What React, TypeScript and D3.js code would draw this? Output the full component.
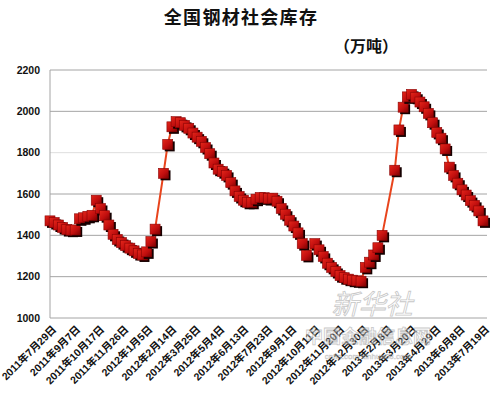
import React from "react";
import * as d3 from "d3";

// weekly readings, holiday weeks missing
const dates = [
  "2011-07-29", "2011-08-05", "2011-08-12", "2011-08-19", "2011-08-26", "2011-09-02",
  "2011-09-09", "2011-09-16", "2011-09-23", "2011-09-30", "2011-10-07", "2011-10-14",
  "2011-10-21", "2011-10-28", "2011-11-04", "2011-11-11", "2011-11-18", "2011-11-25",
  "2011-12-02", "2011-12-09", "2011-12-16", "2011-12-23", "2011-12-30", "2012-01-06",
  "2012-01-13", "2012-01-20", "2012-02-03", "2012-02-10", "2012-02-17", "2012-02-24",
  "2012-03-02", "2012-03-09", "2012-03-16", "2012-03-23", "2012-03-30", "2012-04-06",
  "2012-04-13", "2012-04-20", "2012-04-27", "2012-05-04", "2012-05-11", "2012-05-18",
  "2012-05-25", "2012-06-01", "2012-06-08", "2012-06-15", "2012-06-22", "2012-06-29",
  "2012-07-06", "2012-07-13", "2012-07-20", "2012-07-27", "2012-08-03", "2012-08-10",
  "2012-08-17", "2012-08-24", "2012-08-31", "2012-09-07", "2012-09-14", "2012-09-21",
  "2012-09-28", "2012-10-12", "2012-10-19", "2012-10-26", "2012-11-02", "2012-11-09",
  "2012-11-16", "2012-11-23", "2012-11-30", "2012-12-07", "2012-12-14", "2012-12-21",
  "2012-12-28", "2013-01-04", "2013-01-11", "2013-01-18", "2013-01-25", "2013-02-01",
  "2013-02-22", "2013-03-01", "2013-03-08", "2013-03-15", "2013-03-22", "2013-03-29",
  "2013-04-05", "2013-04-12", "2013-04-19", "2013-04-26", "2013-05-03", "2013-05-10",
  "2013-05-17", "2013-05-24", "2013-05-31", "2013-06-07", "2013-06-14", "2013-06-21",
  "2013-06-28", "2013-07-05", "2013-07-12", "2013-07-19",
];

const stock = [
  1470, 1462, 1450, 1438, 1428, 1425,
  1426, 1480, 1485, 1492, 1497, 1570,
  1530, 1495, 1450, 1405, 1380, 1365,
  1350, 1338, 1325, 1312, 1305, 1320,
  1370, 1430, 1700, 1840, 1925, 1950,
  1945, 1932, 1918, 1895, 1875, 1855,
  1825, 1795, 1750, 1720, 1708, 1690,
  1655, 1615, 1588, 1570, 1560, 1560,
  1575, 1583, 1582, 1578, 1580, 1565,
  1530, 1502, 1473, 1445, 1412, 1360,
  1303, 1360, 1330, 1298, 1265, 1245,
  1225, 1205, 1195, 1188, 1183, 1180,
  1178, 1245, 1270, 1305, 1340, 1400,
  1715, 1910, 2020, 2070, 2082, 2068,
  2045, 2022, 1990, 1945, 1898, 1870,
  1818, 1730, 1690, 1652, 1620, 1595,
  1568, 1545, 1518, 1470,
];

const xLabels = [
  "2011年7月29日", "2011年9月7日", "2011年10月17日", "2011年11月26日", "2012年1月5日",
  "2012年2月14日", "2012年3月25日", "2012年5月4日", "2012年6月13日", "2012年7月23日",
  "2012年9月1日", "2012年10月11日", "2012年11月20日", "2012年12月30日", "2013年2月8日",
  "2013年3月20日", "2013年4月29日", "2013年6月8日", "2013年7月19日",
];

const yTicks = [1000, 1200, 1400, 1600, 1800, 2000, 2200];

const W = 500;
const H = 393;
const left = 50;
const right = 483;
const top = 70;
const bottom = 318;

const parseIso = d3.timeParse("%Y-%m-%d");
const parseCn = (s: string) => {
  const m = s.match(/(\d+)年(\d+)月(\d+)日/)!;
  return new Date(+m[1], +m[2] - 1, +m[3]);
};

export default function App() {
  const pts = dates.map((d, i) => ({ date: parseIso(d) as Date, v: stock[i] }));

  const x = d3
    .scaleTime()
    .domain([parseIso(dates[0]) as Date, parseIso(dates[dates.length - 1]) as Date])
    .range([left, right]);
  const y = d3.scaleLinear().domain([1000, 2200]).range([bottom, top]);

  const line = d3
    .line<{ date: Date; v: number }>()
    .x((d) => x(d.date))
    .y((d) => y(d.v));

  const ms = 10;
  const latin = "'Liberation Sans', 'Noto Sans CJK SC', sans-serif";
  const cjk = "'Noto Sans CJK SC', sans-serif";

  return (
    <svg
      width={W}
      height={H}
      style={{ position: "absolute", left: 0, top: 0, background: "#fff" }}
    >
      <defs>
        <linearGradient id="face" x1="0" y1="0" x2="1" y2="1">
          <stop offset="0%" stopColor="#e4261a" />
          <stop offset="55%" stopColor="#c00e0e" />
          <stop offset="100%" stopColor="#7a0202" />
        </linearGradient>
      </defs>

      <text x={241} y={24} textAnchor="middle" fontFamily={cjk} fontWeight="bold"
        fontSize={18} letterSpacing={1.3} fill="#111">
        全国钢材社会库存
      </text>
      <text x={334} y={52} fontFamily={cjk} fontWeight="bold" fontSize={16} fill="#111">
        （万吨）
      </text>

      {yTicks.map((t) => (
        <g key={t}>
          <line x1={left} x2={right + 4} y1={y(t)} y2={y(t)}
            stroke={t === 1800 ? "#dedede" : "#a4a4a4"} strokeWidth={1} />
          <text x={40} y={y(t)} dy="0.35em" textAnchor="end" fontFamily={latin}
            fontWeight="bold" fontSize={10.5} fill="#111">
            {t}
          </text>
        </g>
      ))}
      <line x1={left} x2={left} y1={top} y2={bottom} stroke="#a4a4a4" />

      <path d={line(pts) ?? ""} fill="none" stroke="#e8441c" strokeWidth={2} />

      {pts.map((p, i) => {
        const cx = x(p.date);
        const cy = y(p.v);
        return (
          <g key={i}>
            <rect x={cx - ms / 2 + 2} y={cy - ms / 2 + 2} width={ms} height={ms} fill="#160000" />
            <rect x={cx - ms / 2} y={cy - ms / 2} width={ms} height={ms}
              fill="url(#face)" stroke="#8a0404" strokeWidth={0.6} />
          </g>
        );
      })}

      {xLabels.map((s) => {
        const tx = x(parseCn(s)) + 7;
        const ty = 330;
        return (
          <text key={s} x={tx} y={ty} transform={`rotate(-45 ${tx} ${ty})`} textAnchor="end"
            fontFamily={latin} fontWeight="bold" fontSize={10.5} fill="#111">
            {s}
          </text>
        );
      })}

      <g opacity={0.55} fontFamily={cjk}>
        <text x={372} y={314} textAnchor="middle" fontSize={27} fontStyle="italic"
          fill="#fff" stroke="#9a9a9a" strokeWidth={0.8}>
          新华社
        </text>
        <text x={368} y={343} textAnchor="middle" fontSize={18} fontWeight="bold"
          fill="#fff" stroke="#9a9a9a" strokeWidth={0.8}>
          中国金融信息网
        </text>
        <text x={368} y={359} textAnchor="middle" fontFamily={latin} fontSize={8}
          fill="#fff" stroke="#9a9a9a" strokeWidth={0.5}>
          cnfin.com  xinhua08.com
        </text>
      </g>
    </svg>
  );
}
